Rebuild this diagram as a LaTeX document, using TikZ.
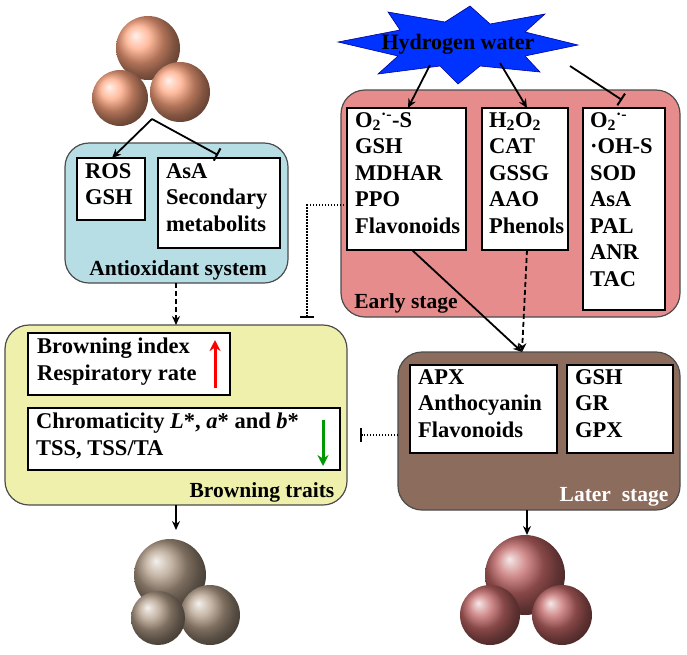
\documentclass[tikz,border=0pt]{standalone}
\usepackage{fontspec}
\setmainfont{Liberation Serif}
\usetikzlibrary{arrows.meta}
\definecolor{gblue}{RGB}{182,222,228}
\definecolor{gyel}{RGB}{238,240,172}
\definecolor{gred}{RGB}{230,140,140}
\definecolor{gbrown}{RGB}{140,108,92}
\newcommand{\supo}{O\textsubscript{2}\textsuperscript{·-}}
\begin{document}
\begin{tikzpicture}[x=1pt,y=-1pt,
  txt/.style={font=\bfseries\fontsize{22.5}{26.5}\selectfont,align=left,inner sep=0pt,anchor=north west},
  lbl/.style={font=\bfseries\fontsize{21.5}{23}\selectfont},
  box/.style={draw,line width=1.8pt,fill=white},
  grp/.style={draw=black!70,line width=1.2pt,rounded corners=24pt},
  arr/.style={-{Stealth[length=9pt,width=8pt]},line width=1.8pt},
  dsh/.style={dash pattern=on 5pt off 3pt},
  dot/.style={dash pattern=on 1.5pt off 1.5pt},
  inh/.style={-{Bar[width=14pt,line width=2pt]},line width=1.8pt},
  fruitR/.style={ball color=red!40!orange!50!white,draw=none},
  fruitB/.style={ball color=brown!60!black!55!white,draw=none},
  fruitL/.style={ball color=red!60!black!60!white,draw=none}]
\useasboundingbox (0,0) rectangle (687,654);
% top fruit
\shade[fruitR] (148,48) circle (32);
\shade[fruitR] (120,98) circle (28);
\shade[fruitR] (180,92) circle (30);
\coordinate (top) at (152,119);
% antioxidant group
\draw[grp,fill=gblue] (65,143) rectangle (288,283);
\draw[box] (77,158) rectangle (145,220);
\node[txt] (ros) at (85,163) {ROS\\GSH};
\draw[box] (158,158) rectangle (280,248);
\node[txt] (asa) at (166,163) {AsA\\Secondary\\metabolits};
\node[lbl] (anti) at (178,270) {Antioxidant system};
\coordinate (rosT) at (112,158);
\coordinate (asaT) at (218,155);
\draw[arr] (top) -- (rosT);
\draw[inh] (top) -- (asaT);
% browning group
\draw[grp,fill=gyel] (5,325) rectangle (347,505);
\draw[box] (28,333) rectangle (230,395);
\node[txt] (bi) at (37,338) {Browning index\\Respiratory rate};
\draw[box] (28,408) rectangle (340,470);
\node[txt] (chr) at (36,413) {Chromaticity \textit{L}*, \textit{a}* and \textit{b}*\\TSS, TSS/TA};
\draw[-{Stealth[length=11pt,width=11pt]},red,line width=3pt] (215,388) -- (215,340);
\draw[-{Stealth[length=11pt,width=11pt]},green!60!black,line width=3pt] (323,420) -- (323,466);
\node[lbl] (btr) at (262,492) {Browning traits};
\coordinate (antiB) at (176,283);
\coordinate (brT) at (176,325);
\draw[arr,dsh] (antiB) -- (brT);
% hydrogen water star
\draw[fill=blue!80!cyan,draw=blue!60!black,line width=0.6pt] (338,42)--(400,30)--(388,12)--(445,22)--(470,6)--(490,24)--(545,14)--(525,32)--(578,45)--(525,56)--(540,72)--(480,66)--(458,84)--(440,66)--(378,74)--(398,56)--cycle;
\node[font=\bfseries\fontsize{22}{23}\selectfont] (hw) at (458,44) {Hydrogen water};
% early stage
\draw[grp,fill=gred] (341,90) rectangle (680,317);
\draw[box] (347,108) rectangle (466,250);
\node[txt] (e1) at (355,112) {\supo-S\\GSH\\MDHAR\\PPO\\Flavonoids};
\draw[box] (482,108) rectangle (568,250);
\node[txt] (e2) at (489,112) {H\textsubscript{2}O\textsubscript{2}\\CAT\\GSSG\\AAO\\Phenols};
\draw[box] (583,108) rectangle (665,310);
\node[txt] (e3) at (590,112) {\supo\\·OH-S\\SOD\\AsA\\PAL\\ANR\\TAC};
\node[lbl] (es) at (406,303) {Early stage};
\draw[arr] (430,65) -- (408,108);
\draw[arr] (500,63) -- (527,108);
\draw[inh] (570,66) -- (622,100);
% later stage
\draw[grp,fill=gbrown] (398,352) rectangle (680,510);
\draw[box] (410,365) rectangle (557,453);
\node[txt] (l1) at (418,369) {APX\\Anthocyanin\\Flavonoids};
\draw[box] (567,365) rectangle (673,453);
\node[txt] (l2) at (575,369) {GSH\\GR\\GPX};
\node[lbl,text=white] (ls) at (614,497) {Later\ \ stage};
\coordinate (lsT) at (522,352);
\draw[arr] (412,250) -- (lsT);
\draw[arr,dsh] (527,250) -- (lsT);
% dotted inhibitions
\draw[inh,dot] (347,205) -| (307,318);
\draw[inh,dot] (398,435) -- (360,435);
% bottom
\draw[arr] (176,505) -- (176,530);
\draw[arr] (527,510) -- (527,535);
\shade[fruitB] (170,575) circle (36);
\shade[fruitB] (210,615) circle (30);
\shade[fruitB] (158,618) circle (27);
\shade[fruitL] (525,575) circle (40);
\shade[fruitL] (490,615) circle (30);
\shade[fruitL] (562,615) circle (30);
\end{tikzpicture}
\end{document}
